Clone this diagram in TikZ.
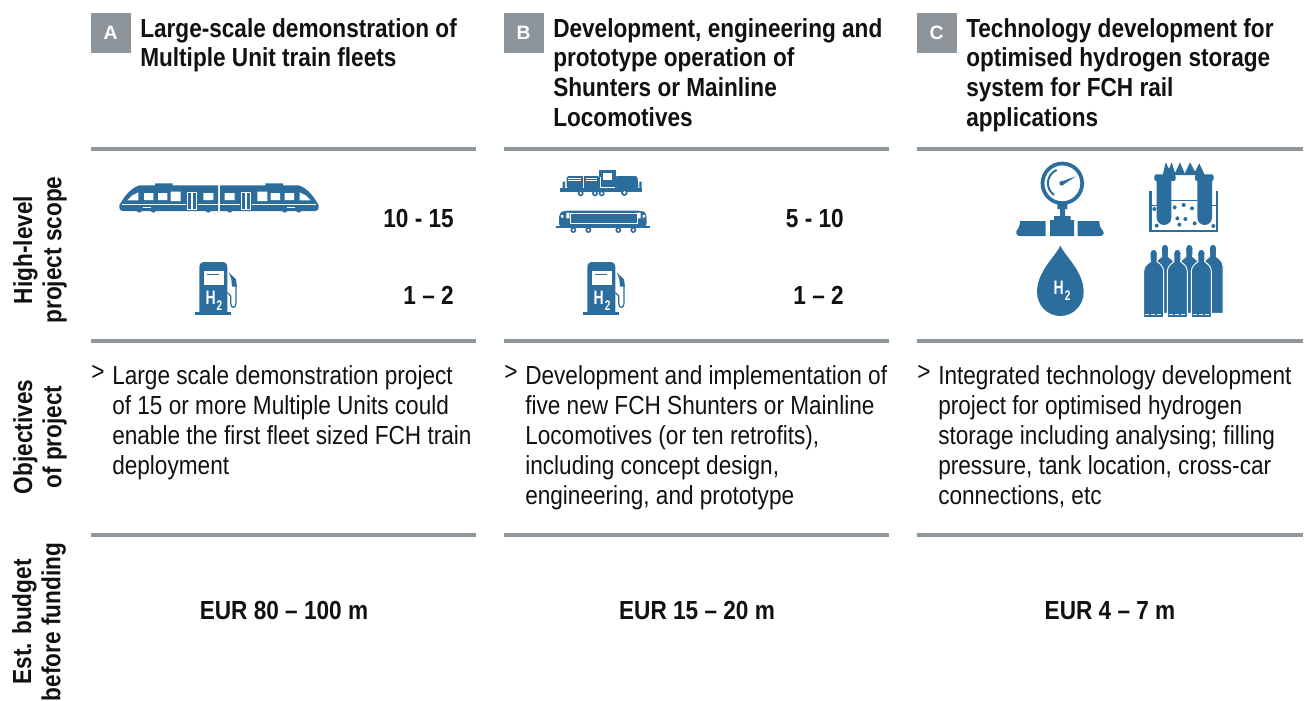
\documentclass[tikz,border=0pt]{standalone}
\usepackage{fontspec}
\setmainfont{Liberation Sans}
\newfontfamily\bodyf[FakeStretch=0.865]{Liberation Sans}
\newfontfamily\ninef[FakeStretch=0.72]{Liberation Sans}
\definecolor{iconblue}{HTML}{2B6E9E}
\definecolor{rulegray}{HTML}{8E979C}
\definecolor{tagray}{HTML}{8D959B}
\definecolor{ink}{HTML}{111111}
\tikzset{
 hrule/.style={draw=rulegray,line width=2.6pt},
 tagbox/.style={fill=tagray,text=white,minimum width=30pt,minimum height=30pt,inner sep=0pt,font=\bfseries\fontsize{14.5}{14}\selectfont},
 headtxt/.style={anchor=north west,inner sep=0pt,align=left,text=ink,font=\bodyf\bfseries\fontsize{19.6}{22.3}\selectfont},
 bodytxt/.style={anchor=north west,inner sep=0pt,align=left,text=ink,font=\bodyf\fontsize{19.6}{22.5}\selectfont},
 numtxt/.style={anchor=base east,inner sep=0pt,text=ink,font=\bodyf\bfseries\fontsize{19.6}{22}\selectfont},
 budgettxt/.style={anchor=base,inner sep=0pt,text=ink,font=\bodyf\bfseries\fontsize{19.6}{22}\selectfont},
 sidetxt/.style={rotate=90,anchor=center,inner sep=0pt,align=center,text=ink,font=\bodyf\bfseries\fontsize{19.6}{22}\selectfont},
 ic/.style={fill=iconblue,draw=none},
 icw/.style={fill=white,draw=none},
 icl/.style={draw=iconblue,fill=none},
 wl/.style={draw=white,fill=none},
 zoomed/.style={shift={(#1)},x=0.25pt,y=-0.25pt},
 htwo/.style={text=white,inner sep=0pt,font=\ninef\bfseries\fontsize{14.6}{15}\selectfont},
}
\newcommand{\htwotext}{H\kern0.05em\raisebox{-0.32em}{\fontsize{10.5}{11}\selectfont 2}}
\newcommand{\halftrain}{%
 \fill[ic] (58,136) .. controls (72,110) and (92,84) .. (118,76) -- (165,76) -- (165,70) -- (218,70) -- (218,76) -- (354,76) -- (354,153) -- (68,153) .. controls (60,153) and (58,148) .. (58,136) -- cycle;
 \fill[ic] (118,150) circle (8) (160,150) circle (8) (325,150) circle (8);
 \draw[wl,line width=0.4pt] (66,133) -- (258,133) (294,133) -- (354,133);
 \draw[wl,line width=0.35pt] (128,143) -- (152,143);
 \fill[icw] (82,121) -- (97,106) -- (115,97) -- (115,121) -- cycle;
 \fill[icw] (132,99) rectangle (160,120) (174,99) rectangle (202,120) (212,95) rectangle (242,123) (310,99) rectangle (340,120);
 \draw[wl,line width=0.5pt] (262,98) rectangle (274,147) (278,98) rectangle (290,147);
}
\newcommand{\cyl}[3]{% centre, top of cap, bottom
 \path[ic,draw=white,line width=0.7pt] (#1-30,#3) -- (#1-30,#2+67) .. controls (#1-30,#2+50) and (#1-18,#2+43) .. (#1-10,#2+37) -- (#1-11,#2+12) .. controls (#1-11,#2-4) and (#1+11,#2-4) .. (#1+11,#2+12) -- (#1+10,#2+37) .. controls (#1+18,#2+43) and (#1+30,#2+50) .. (#1+30,#2+67) -- (#1+30,#3) -- cycle;
}
\newcommand{\cyldash}[1]{%
 \draw[wl,line width=0.5pt,dash pattern=on 3pt off 1.5pt] (#1-26,477) -- (#1+28,477);
}
\begin{document}
\begin{tikzpicture}[x=0.75pt,y=-0.75pt]
\useasboundingbox (0,0) rectangle (1309,700);
% rules
\foreach \y in {149,341,535}{
 \draw[hrule] (91,\y) -- (476,\y);
 \draw[hrule] (504,\y) -- (889,\y);
 \draw[hrule] (917,\y) -- (1303,\y);
}
% tags
\node[tagbox] (ta) at (110.5,33) {A};
\node[tagbox] (tb) at (523.5,33) {B};
\node[tagbox] (tc) at (936.5,33) {C};
% headers
\node[headtxt] (ha) at (140,18) {Large-scale demonstration of\\Multiple Unit train fleets};
\node[headtxt] (hb) at (553,18) {Development, engineering and\\prototype operation of\\Shunters or Mainline\\Locomotives};
\node[headtxt] (hc) at (966,18) {Technology development for\\optimised hydrogen storage\\system for FCH rail\\applications};
% side labels
\node[sidetxt] (s1) at (40,250) {High-level\\project scope};
\node[sidetxt] (s2) at (40,437) {Objectives\\of project};
\node[sidetxt] (s3) at (39,622) {Est. budget\\before funding};
% numbers
\node[numtxt] (n1) at (454,227) {10 - 15};
\node[numtxt] (n2) at (454,304) {1 – 2};
\node[numtxt] (n3) at (844,227) {5 - 10};
\node[numtxt] (n4) at (844,304) {1 – 2};
% body
\node[bodytxt] (ga) at (91,365) {>};
\node[bodytxt] (gb) at (504,365) {>};
\node[bodytxt] (gc) at (917,365) {>};
\node[bodytxt] (ba) at (112,365) {Large scale demonstration project\\of 15 or more Multiple Units could\\enable the first fleet sized FCH train\\deployment};
\node[bodytxt] (bb) at (525,365) {Development and implementation of\\five new FCH Shunters or Mainline\\Locomotives (or ten retrofits),\\including concept design,\\engineering, and prototype};
\node[bodytxt] (bc) at (938,365) {Integrated technology development\\project for optimised hydrogen\\storage including analysing; filling\\pressure, tank location, cross-car\\connections, etc};
% budget
\node[budgettxt] (e1) at (284,619.5) {EUR 80 – 100 m};
\node[budgettxt] (e2) at (697,619.5) {EUR 15 – 20 m};
\node[budgettxt] (e3) at (1110,619.5) {EUR 4 – 7 m};
% train
\begin{scope}[zoomed={100,160}]
 \halftrain
 \begin{scope}[xshift=178.5pt,xscale=-1]\halftrain\end{scope}
\end{scope}
% pumps
\foreach \ox/\nm in {100/pa,488/pb}{
\begin{scope}[zoomed={\ox,160}]
 \fill[ic] (298,458) -- (298,322) .. controls (298,311) and (304,306) .. (314,306) -- (366,306) .. controls (376,306) and (382,311) .. (382,322) -- (382,458) -- cycle;
 \fill[ic] (285,457) rectangle (393,464);
 \fill[icw] (313,333) rectangle (371,375);
 \draw[icl,line width=0.5pt] (320,344) -- (358,344);
 \fill[ic] (387,338) -- (408,358) -- (411,380) -- (396,380) -- (394,358) -- cycle;
 \draw[icl,line width=0.9pt] (382,398) -- (392,408) -- (392,430) .. controls (392,446) and (408,446) .. (408,430) -- (408,378);
 \node[htwo] (\nm) at (342,423) {\htwotext};
\end{scope}}
% shunter and mainline loco
\begin{scope}[zoomed={540,160}]
 \fill[ic,rounded corners=1.2pt] (80,85) -- (80,48) -- (178,48) -- (178,85) -- cycle;
 \fill[ic] (178,30) rectangle (228,90);
 \fill[ic,rounded corners=1.2pt] (226,85) -- (226,48) -- (292,48) -- (296,85) -- cycle;
 \fill[ic] (60,84) rectangle (306,97);
 \fill[ic] (68,65) rectangle (75,90) (298,65) rectangle (305,90);
 \fill[ic] (122,100) circle (9) (165,100) circle (9) (185,100) circle (9) (253,98) circle (10);
 \fill[icw] (188,40) rectangle (215,60);
 \draw[wl,line width=0.3pt] (85,54) -- (122,54) (85,62) -- (122,62) (137,54) -- (172,54) (137,62) -- (172,62) (130,48) -- (130,84) (181,82) -- (225,82) (181,50) -- (181,82);
 \fill[icw] (122,100) circle (4) (165,100) circle (4) (185,100) circle (4) (253,98) circle (5);
 \fill[ic,rounded corners=3pt] (57,203) -- (57,160) -- (72,152) -- (306,152) -- (320,160) -- (320,203) -- cycle;
 \fill[ic] (48,197) rectangle (330,205);
 \fill[ic] (100,210) circle (9) (145,210) circle (9) (235,210) circle (9) (280,210) circle (9);
 \fill[icw] (100,210) circle (4) (145,210) circle (4) (235,210) circle (4) (280,210) circle (4);
 \fill[icw] (79,158) rectangle (88,175) (293,158) rectangle (302,175) (63,165) rectangle (70,173) (308,165) rectangle (315,173);
 \draw[wl,line width=0.25pt] (90,158) -- (90,190) -- (290,190) -- (290,158) -- cycle;
\end{scope}
% storage icons
\begin{scope}[zoomed={1000,155}]
 % pressure gauge
 \draw[icl,line width=2.8pt] (187,85) circle (59.5);
 \draw[icl,line width=1.5pt] (170,45) arc (-113:-235:43);
 \fill[ic] (185,85) circle (7);
 \fill[ic] (183,80) -- (228,64) -- (188,90) -- cycle;
 \fill[ic] (172,147) rectangle (202,162) (180,160) rectangle (195,185) (162,183) rectangle (212,196) (150,195) rectangle (222,243);
 \fill[ic] (137,243) -- (60,243) .. controls (50,243) and (46,235) .. (49,229) .. controls (54,222) and (60,214) .. (60,198) -- (137,198) -- cycle;
 \fill[ic] (233,243) -- (300,243) .. controls (310,243) and (314,235) .. (309,228) .. controls (303,222) and (298,214) .. (298,198) -- (233,198) -- cycle;
 % drop
 \fill[ic] (181,272) .. controls (200,310) and (251,350) .. (251,412) .. controls (251,450) and (220,483) .. (181,483) .. controls (142,483) and (111,450) .. (111,412) .. controls (111,350) and (162,310) .. (181,272) -- cycle;
 \node[htwo] (dh) at (186,408) {\htwotext};
 % test tubes
 \draw[icl,line width=2.2pt] (452,108) -- (452,228) -- (651,228) -- (651,108);
 \draw[icl,line width=0.4pt] (514,135) -- (592,135) (456,150) -- (470,150) (636,150) -- (648,150);
 \fill[ic] (488,60) -- (497,22) -- (507,42) -- (515,22) -- (527,60) -- cycle;
 \fill[ic] (522,60) -- (540,22) -- (556,60) -- cycle;
 \fill[ic] (552,60) -- (570,22) -- (585,50) -- (598,25) -- (614,60) -- cycle;
 \fill[ic,rounded corners=1.5pt] (463,58) rectangle (527,78) (585,58) rectangle (641,78);
 \fill[ic] (470,70) -- (514,70) -- (514,188) arc (0:180:22) -- cycle;
 \fill[ic] (592,70) -- (636,70) -- (636,188) arc (0:180:22) -- cycle;
 \fill[ic] (463,162) circle (6) (470,212) circle (6) (524,157) circle (6) (551,150) circle (6) (576,160) circle (6) (532,190) circle (6) (556,192) circle (6) (538,209) circle (6) (584,205) circle (6) (640,213) circle (6);
 % cylinders
 \cyl{495}{268}{475}
 \cyl{568}{268}{475}
 \cyl{639}{268}{475}
 \cyl{461}{283}{488}
 \cyl{532}{283}{488}
 \cyl{604}{283}{488}
 \cyldash{461}
 \cyldash{532}
 \cyldash{604}
\end{scope}
\end{tikzpicture}
\end{document}
